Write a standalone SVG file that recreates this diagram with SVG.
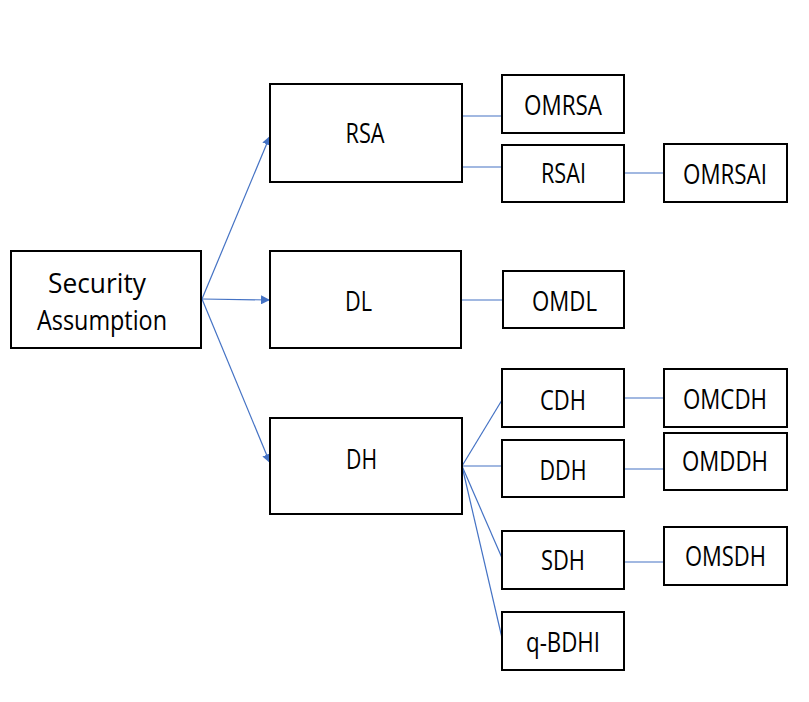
<svg xmlns="http://www.w3.org/2000/svg" width="809" height="702" viewBox="0 0 809 702">
  <style>
    .box { fill: #ffffff; stroke: #000000; stroke-width: 2; }
    .lbl { font-family: "Open Sans", "Noto Sans", "Liberation Sans", sans-serif; font-size: 27px; fill: #000000; }
    .link { fill: none; stroke: #4472C4; stroke-width: 1.2; }
  </style>
  <defs>
    <marker id="arrow" viewBox="0 0 10 10" refX="10" refY="5" markerWidth="9" markerHeight="9" markerUnits="userSpaceOnUse" orient="auto">
      <path d="M0,0 L10,5 L0,10 z" fill="#4472C4"/>
    </marker>
  </defs>
  <rect width="809" height="702" fill="#ffffff"/>

  <g id="connectors">
    <line class="link" x1="202" y1="299" x2="270" y2="136" marker-end="url(#arrow)"/>
    <line class="link" x1="202" y1="299" x2="270" y2="300" marker-end="url(#arrow)"/>
    <line class="link" x1="202" y1="299" x2="270" y2="463" marker-end="url(#arrow)"/>
    <line class="link" x1="462" y1="116" x2="502" y2="116"/>
    <line class="link" x1="462" y1="167" x2="502" y2="167"/>
    <line class="link" x1="624" y1="173" x2="664" y2="173"/>
    <line class="link" x1="461" y1="300" x2="503" y2="300"/>
    <line class="link" x1="462" y1="466" x2="502" y2="400"/>
    <line class="link" x1="462" y1="466" x2="502" y2="466"/>
    <line class="link" x1="462" y1="466" x2="502" y2="558"/>
    <line class="link" x1="462" y1="466" x2="502" y2="638"/>
    <line class="link" x1="624" y1="398" x2="664" y2="398"/>
    <line class="link" x1="624" y1="469" x2="664" y2="469"/>
    <line class="link" x1="624" y1="562" x2="664" y2="562"/>
  </g>

  <g id="security-assumption">
    <rect class="box" x="11" y="251" width="190" height="97"/>
    <text class="lbl" x="97" y="293" text-anchor="middle" textLength="98" lengthAdjust="spacingAndGlyphs">Security</text>
    <text class="lbl" x="102" y="330" text-anchor="middle" textLength="130" lengthAdjust="spacingAndGlyphs">Assumption</text>
  </g>

  <g id="rsa">
    <rect class="box" x="270" y="84" width="192" height="98"/>
    <text class="lbl" x="365" y="143" text-anchor="middle" textLength="39" lengthAdjust="spacingAndGlyphs">RSA</text>
  </g>
  <g id="dl">
    <rect class="box" x="270" y="251" width="191" height="97"/>
    <text class="lbl" x="358.5" y="311" text-anchor="middle" textLength="27" lengthAdjust="spacingAndGlyphs">DL</text>
  </g>
  <g id="dh">
    <rect class="box" x="270" y="418" width="192" height="96"/>
    <text class="lbl" x="361.5" y="469" text-anchor="middle" textLength="31" lengthAdjust="spacingAndGlyphs">DH</text>
  </g>

  <g id="omrsa">
    <rect class="box" x="502" y="75" width="122" height="58"/>
    <text class="lbl" x="563" y="115" text-anchor="middle" textLength="78" lengthAdjust="spacingAndGlyphs">OMRSA</text>
  </g>
  <g id="rsai">
    <rect class="box" x="502" y="145" width="122" height="57"/>
    <text class="lbl" x="563.5" y="183" text-anchor="middle" textLength="45" lengthAdjust="spacingAndGlyphs">RSAI</text>
  </g>
  <g id="omrsai">
    <rect class="box" x="664" y="144" width="123" height="58"/>
    <text class="lbl" x="725" y="184" text-anchor="middle" textLength="84" lengthAdjust="spacingAndGlyphs">OMRSAI</text>
  </g>
  <g id="omdl">
    <rect class="box" x="503" y="271" width="121" height="57"/>
    <text class="lbl" x="564.5" y="311" text-anchor="middle" textLength="65" lengthAdjust="spacingAndGlyphs">OMDL</text>
  </g>

  <g id="cdh">
    <rect class="box" x="502" y="369" width="122" height="58"/>
    <text class="lbl" x="563" y="410" text-anchor="middle" textLength="46" lengthAdjust="spacingAndGlyphs">CDH</text>
  </g>
  <g id="ddh">
    <rect class="box" x="502" y="440" width="122" height="57"/>
    <text class="lbl" x="563" y="480" text-anchor="middle" textLength="47" lengthAdjust="spacingAndGlyphs">DDH</text>
  </g>
  <g id="sdh">
    <rect class="box" x="502" y="531" width="122" height="58"/>
    <text class="lbl" x="563" y="570" text-anchor="middle" textLength="44" lengthAdjust="spacingAndGlyphs">SDH</text>
  </g>
  <g id="q-bdhi">
    <rect class="box" x="502" y="612" width="122" height="58"/>
    <text class="lbl" x="563" y="652" text-anchor="middle" textLength="74" lengthAdjust="spacingAndGlyphs">q-BDHI</text>
  </g>

  <g id="omcdh">
    <rect class="box" x="664" y="369" width="123" height="58"/>
    <text class="lbl" x="725" y="409" text-anchor="middle" textLength="84" lengthAdjust="spacingAndGlyphs">OMCDH</text>
  </g>
  <g id="omddh">
    <rect class="box" x="664" y="433" width="123" height="57"/>
    <text class="lbl" x="725" y="471" text-anchor="middle" textLength="86" lengthAdjust="spacingAndGlyphs">OMDDH</text>
  </g>
  <g id="omsdh">
    <rect class="box" x="664" y="527" width="123" height="58"/>
    <text class="lbl" x="725.5" y="566" text-anchor="middle" textLength="81" lengthAdjust="spacingAndGlyphs">OMSDH</text>
  </g>
</svg>
